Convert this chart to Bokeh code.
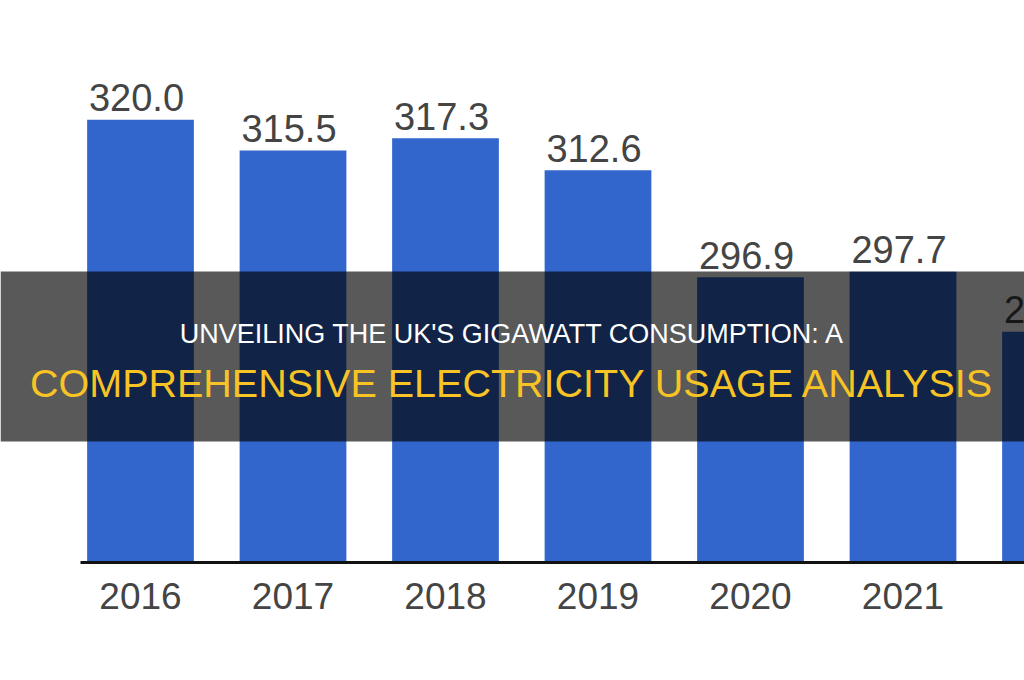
from bokeh.plotting import figure
from bokeh.models import Range1d, FixedTicker, BoxAnnotation, Label
from bokeh.core.properties import value
from bokeh.embed import file_html
from bokeh.resources import INLINE

# UK electricity consumption (TWh) by year
years = [2016, 2017, 2018, 2019, 2020, 2021, 2022]
consumption = [320.0, 315.5, 317.3, 312.6, 296.9, 297.7, 288.9]
year_labels = [str(y) for y in years]
value_labels = [f"{v:.1f}" for v in consumption]

title_line1 = "UNVEILING THE UK'S GIGAWATT CONSUMPTION: A"
title_line2 = "COMPREHENSIVE ELECTRICITY USAGE ANALYSIS"

# layout constants
W, H = 1024, 680
FRAME_H = 562          # plot frame height (baseline row)
PX_PER_YEAR = 152.5
PX_PER_UNIT = 6.81
FIRST_CENTER_PX = 140
Y0 = 255.0             # value at the baseline
AXIS_LEFT_PX = 80

x_start = years[0] - FIRST_CENTER_PX / PX_PER_YEAR
x_end = x_start + W / PX_PER_YEAR
y_end = Y0 + FRAME_H / PX_PER_UNIT


def row_to_value(py):
    """Convert a pixel row (from the top) into a y value."""
    return Y0 + (FRAME_H - py) / PX_PER_UNIT


FONT = "Liberation Sans"
BLUE = "#3366cc"
GREY_TEXT = "#444444"

p = figure(width=W, height=H,
           x_range=Range1d(x_start, x_end), y_range=Range1d(Y0, y_end),
           y_axis_location=None, output_backend="svg", toolbar_location=None,
           min_border_left=0, min_border_right=0, min_border_top=0,
           min_border_bottom=H - FRAME_H)
p.outline_line_color = None
p.grid.visible = False
p.background_fill_color = "white"
p.border_fill_color = "white"

ax = p.xaxis[0]
ax.ticker = FixedTicker(ticks=years)
ax.major_label_overrides = {y: s for y, s in zip(years, year_labels)}
ax.bounds = (x_start + AXIS_LEFT_PX / PX_PER_YEAR, x_end)
ax.axis_line_color = "#111111"
ax.axis_line_width = 3
ax.major_tick_line_color = None
ax.minor_tick_line_color = None
ax.major_tick_in = 0
ax.major_tick_out = 0
ax.major_label_standoff = 20
ax.major_label_text_font = FONT
ax.major_label_text_font_size = "37px"
ax.major_label_text_color = GREY_TEXT

p.vbar(x=years, top=consumption, bottom=Y0, width=0.70,
       fill_color=BLUE, line_color=None)

p.text(x=years, y=consumption, text=value_labels,
       text_align="center", text_baseline="middle",
       x_offset=-4, y_offset=-22,
       text_font=value(FONT), text_font_size="38px", text_color=GREY_TEXT)

# year label of the bar cut off at the right edge
p.add_layout(Label(x=years[-1], y=row_to_value(597), text=year_labels[-1],
                   x_offset=-4, text_align="center", text_baseline="middle",
                   text_font=FONT, text_font_size="37px", text_color=GREY_TEXT))

# dark title band across the middle
p.add_layout(BoxAnnotation(top=row_to_value(271), bottom=row_to_value(441),
                           fill_color="black", fill_alpha=0.65, line_color=None))

p.add_layout(Label(x=W / 2, x_units="screen", y=row_to_value(333.5),
                   text=title_line1, text_align="center", text_baseline="middle",
                   text_font=FONT, text_font_size="27px", text_color="white"))
p.add_layout(Label(x=W / 2, x_units="screen", y=row_to_value(382),
                   text=title_line2, text_align="center", text_baseline="middle",
                   text_font=FONT, text_font_size="39.5px", text_color="#f7c325"))

open("out.html", "w").write(file_html(p, INLINE))
